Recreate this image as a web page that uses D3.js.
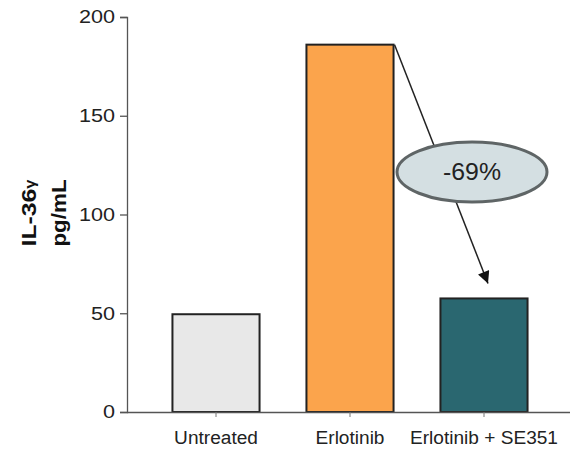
<!DOCTYPE html>
<html><head><meta charset="utf-8">
<script src="https://cdn.jsdelivr.net/npm/d3@7"></script>
<style>body{margin:0;background:#fff}svg{display:block}</style>
</head><body>
<svg id="c" width="570" height="453"></svg>
<script>
const categories = ["Untreated", "Erlotinib", "Erlotinib + SE351"];
const values = [49.5, 186, 57.5];
const colors = ["#e8e8e8", "#fba44c", "#2a6770"];
const yTicks = [0, 50, 100, 150, 200];
const changeLabel = "-69%";

const svg = d3.select("#c");
const font = "Liberation Sans, Arial, Helvetica, sans-serif";
const y = d3.scaleLinear().domain([0, 200]).range([412, 17]);
const x = d3.scaleBand().domain(categories).range([149, 551]).paddingInner(0.35).paddingOuter(0.175);

function stretch(sel, f) {
  sel.each(function () {
    const w = this.getComputedTextLength();
    d3.select(this).attr("textLength", w * f).attr("lengthAdjust", "spacingAndGlyphs");
  });
}

// bars
svg.selectAll("rect.bar").data(categories).enter().append("rect")
  .attr("x", d => x(d)).attr("width", x.bandwidth())
  .attr("y", (d, i) => y(values[i])).attr("height", (d, i) => y(0) - y(values[i]))
  .attr("fill", (d, i) => colors[i]).attr("stroke", "#222").attr("stroke-width", 2);

// y axis
const ya = svg.append("g").attr("transform", "translate(127,0)")
  .call(d3.axisLeft(y).tickValues(yTicks).tickSize(7).tickPadding(5));
ya.select(".domain").attr("stroke", "#555").attr("stroke-width", 1.3);
ya.selectAll(".tick line").attr("stroke", "#555").attr("stroke-width", 1.3);
ya.selectAll("text").attr("font-family", font).attr("font-size", 18).attr("fill", "#222");
stretch(ya.selectAll("text"), 1.2);

// x axis
const xa = svg.append("g").attr("transform", "translate(0,412)")
  .call(d3.axisBottom(x).tickSize(5).tickPadding(14).tickSizeOuter(0));
xa.select(".domain").attr("d", "M127,0.5H570").attr("stroke", "#555").attr("stroke-width", 1.3);
xa.selectAll(".tick line").attr("stroke", "#777").attr("stroke-width", 1);
xa.selectAll("text").attr("font-family", font).attr("font-size", 18).attr("fill", "#222");
stretch(xa.selectAll("text"), 1.06);

// y label
const yl = svg.append("text").attr("transform", "translate(36,213) rotate(-90) scale(1.18,1)")
  .attr("text-anchor", "middle").attr("font-family", font).attr("font-weight", "bold")
  .attr("font-size", 21).attr("fill", "#111");
yl.append("tspan").text("IL-36");
yl.append("tspan").attr("font-size", 14).attr("dy", -1).text("γ");
svg.append("text").attr("transform", "translate(66,213) rotate(-90) scale(1.12,1)")
  .attr("text-anchor", "middle").attr("font-family", font).attr("font-weight", "bold")
  .attr("font-size", 20).attr("fill", "#111").text("pg/mL");

// arrow
svg.append("defs").append("marker").attr("id", "ah").attr("viewBox", "0 0 10 10")
  .attr("refX", 10).attr("refY", 5).attr("markerWidth", 14).attr("markerHeight", 12)
  .attr("markerUnits", "userSpaceOnUse").attr("orient", "auto")
  .append("path").attr("d", "M0,0L10,5L0,10Z").attr("fill", "#111");
const x1 = x(categories[1]) + x.bandwidth(), y1 = y(values[1]);
const x2 = x(categories[2]) + x.bandwidth() / 2 + 4, y2 = y(values[2]) - 15;
svg.append("line").attr("x1", x1 + 1).attr("y1", y1).attr("x2", x2).attr("y2", y2)
  .attr("stroke", "#222").attr("stroke-width", 1.5).attr("marker-end", "url(#ah)");

// ellipse
const ex = 472, ey = y(121.5);
svg.append("ellipse").attr("cx", ex).attr("cy", ey).attr("rx", 75).attr("ry", 30)
  .attr("fill", "#d4dfe2").attr("stroke", "#5f6566").attr("stroke-width", 3);
const et = svg.append("text").attr("x", ex).attr("y", ey).attr("dy", "0.36em").attr("text-anchor", "middle")
  .attr("font-family", font).attr("font-size", 23).attr("fill", "#222").text(changeLabel);
stretch(et, 1.08);
</script>
</body></html>
